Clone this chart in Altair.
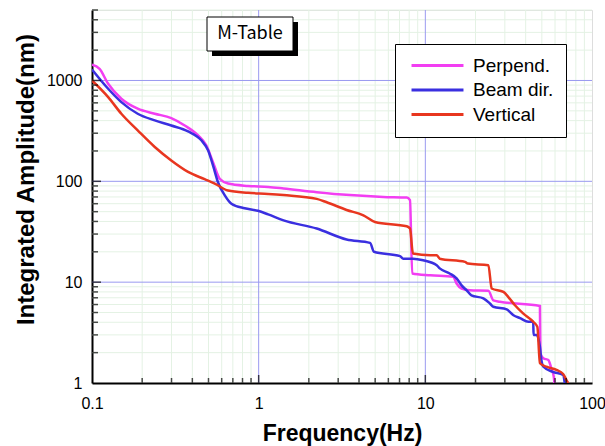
import altair as alt
import pandas as pd

# ---- data ----
perp_f = [0.1, 0.111, 0.125, 0.15, 0.188, 0.238, 0.299, 0.36, 0.433, 0.485, 0.532, 0.584, 0.655, 0.863, 1.14,
          1.41, 2.23, 3.53, 5.59, 7.73, 8.09, 8.34, 10.7, 14.7, 15.4, 16.5, 18.5, 23.9, 25.6, 28.0, 48.7,
          49.0, 51.1, 54.7, 57.0, 59.0, 59.5]
perp_a = [1430, 1306, 927, 659, 525, 468, 424, 358, 285, 227, 155, 106, 95, 90, 88,
          85, 78, 73, 70, 69, 65, 12.2, 11.7, 11.3, 9.7, 8.65, 8.3, 8.2, 6.6, 6.4, 5.8,
          1.97, 1.76, 1.69, 1.4, 1.15, 1.0]

beam_f = [0.1, 0.125, 0.15, 0.188, 0.238, 0.299, 0.377, 0.453, 0.497, 0.532, 0.57, 0.625, 0.686, 0.824, 0.99,
          1.14, 1.41, 2.23, 3.37, 4.66, 4.92, 7.05, 7.37, 8.43, 9.7, 11.7, 12.2, 14.0, 15.4, 16.5, 17.7,
          18.9, 22.3, 24.4, 25.6, 30.8, 33.8, 37.0, 41.5, 44.4, 44.6, 46.5, 48.7, 49.7, 51.1, 58.2, 67.1, 68.6]
beam_a = [1285, 828, 610, 468, 402, 358, 313, 255, 203, 144, 98, 73, 60, 54, 51,
          47, 41, 34, 26.5, 24.5, 20, 18.1, 17.1, 17.1, 16.5, 14.7, 13.7, 12.2, 10.9, 9.3, 8.3,
          7.4, 6.9, 6.15, 5.7, 5.37, 4.7, 4.4, 4.05, 4.05, 3.0, 3.0, 2.29, 1.69, 1.45, 1.29, 1.2, 1.0]

vert_f = [0.1, 0.125, 0.15, 0.188, 0.238, 0.299, 0.377, 0.474, 0.545, 0.655, 0.863, 1.14, 1.41, 2.23, 2.56,
          3.37, 4.25, 4.99, 7.73, 8.09, 8.43, 10.7, 11.7, 12.2, 17.3, 18.0, 23.9, 25.0, 29.4, 31.4, 34.5,
          38.6, 44.4, 47.0, 48.7, 53.3, 61.2, 67.1, 70.3, 72.0]
vert_a = [1000, 684, 468, 320, 219, 161, 124, 105, 95, 81, 77, 75, 73, 67, 62,
          52, 46, 39.5, 35.8, 34, 19.2, 18.5, 18.5, 17.1, 15.9, 15.3, 14.7, 8.65, 8.0, 7.15, 5.9,
          4.9, 4.05, 3.6, 1.57, 1.45, 1.35, 1.23, 1.07, 1.0]

series_names = ["Perpend.", "Beam dir.", "Vertical"]
series_colors = ["#f23ef2", "#3a2fe0", "#e8361f"]

x_major = [1, 10]
x_minor = [0.2, 0.3, 0.4, 0.5, 0.6, 0.7, 0.8, 0.9, 2, 3, 4, 5, 6, 7, 8, 9, 20, 30, 40, 50, 60, 70, 80, 90]
y_major = [10, 100, 1000]
y_minor = [2, 3, 4, 5, 6, 7, 8, 9, 20, 30, 40, 50, 60, 70, 80, 90,
           200, 300, 400, 500, 600, 700, 800, 900, 2000, 3000, 4000, 5000]
x_labels = [0.1, 1, 10, 100]
y_labels = [1, 10, 100, 1000]

rows = []
for name, fs, As in zip(series_names, [perp_f, beam_f, vert_f], [perp_a, beam_a, vert_a]):
    for i, (f, a) in enumerate(zip(fs, As)):
        rows.append({"series": name, "f": f, "A": a, "i": i})
df = pd.DataFrame(rows)

W, H = 500, 373
xscale = alt.Scale(type="log", domain=[0.1, 100])
yscale = alt.Scale(type="log", domain=[1, 5000])
FONT = "Liberation Sans"

xaxis = alt.Axis(values=x_labels, format="~g", grid=False, ticks=False, tickSize=0,
                 domainColor="black", domainWidth=2, labelFont=FONT, labelFontSize=16,
                 labelColor="black", labelPadding=12, labelFlush=False, labelOverlap=False,
                 title="Frequency(Hz)", titleFont=FONT, titleFontSize=23, titleFontWeight="bold",
                 titleColor="black", titleBaseline="alphabetic", titleY=57)
yaxis = alt.Axis(values=y_labels, format="~g", grid=False, ticks=False, tickSize=0,
                 domainColor="black", domainWidth=2, labelFont=FONT, labelFontSize=16,
                 labelColor="black", labelPadding=10, labelFlush=False, labelOverlap=False,
                 title="Integrated Amplitude(nm)", titleFont=FONT, titleFontSize=24,
                 titleFontWeight="bold", titleColor="black", titleBaseline="alphabetic",
                 titleX=-59, titleY=169, titleAngle=270)

xminor_df = pd.DataFrame({"v": x_minor})
yminor_df = pd.DataFrame({"v": y_minor})
xmajor_df = pd.DataFrame({"v": x_major})
ymajor_df = pd.DataFrame({"v": y_major})

grid_minor_x = alt.Chart(xminor_df).mark_rule(color="#e4f2e4", strokeWidth=1).encode(
    x=alt.X("v:Q", scale=xscale, axis=xaxis))
grid_minor_y = alt.Chart(yminor_df).mark_rule(color="#e4f2e4", strokeWidth=1).encode(
    y=alt.Y("v:Q", scale=yscale, axis=yaxis))
grid_major_x = alt.Chart(xmajor_df).mark_rule(color="#9a9af0", strokeWidth=1).encode(
    x=alt.X("v:Q", scale=xscale, axis=xaxis))
grid_major_y = alt.Chart(ymajor_df).mark_rule(color="#9a9af0", strokeWidth=1).encode(
    y=alt.Y("v:Q", scale=yscale, axis=yaxis))

# inward ticks
tick_x_minor = alt.Chart(xminor_df).mark_tick(orient="vertical", size=5, thickness=1.5,
                                              yOffset=-2.5, color="black").encode(
    x=alt.X("v:Q", scale=xscale, axis=xaxis), y=alt.datum(1, scale=yscale, axis=yaxis))
tick_x_major = alt.Chart(xmajor_df).mark_tick(orient="vertical", size=8, thickness=1.5,
                                              yOffset=-4, color="black").encode(
    x=alt.X("v:Q", scale=xscale, axis=xaxis), y=alt.datum(1, scale=yscale, axis=yaxis))
tick_y_minor = alt.Chart(yminor_df).mark_tick(orient="horizontal", size=6, thickness=1.5,
                                              xOffset=3, color="black").encode(
    y=alt.Y("v:Q", scale=yscale, axis=yaxis), x=alt.datum(0.1, scale=xscale, axis=xaxis))
tick_y_major = alt.Chart(ymajor_df).mark_tick(orient="horizontal", size=9, thickness=1.5,
                                              xOffset=4.5, color="black").encode(
    y=alt.Y("v:Q", scale=yscale, axis=yaxis), x=alt.datum(0.1, scale=xscale, axis=xaxis))

lines = alt.Chart(df).mark_line(strokeWidth=2.5, clip=True, interpolate="monotone").encode(
    x=alt.X("f:Q", scale=xscale, axis=xaxis),
    y=alt.Y("A:Q", scale=yscale, axis=yaxis),
    color=alt.Color("series:N",
                    scale=alt.Scale(domain=series_names, range=series_colors),
                    legend=alt.Legend(orient="none", legendX=303, legendY=34, title=None,
                                      symbolType="M-5,0H5", symbolSize=108, symbolStrokeWidth=3,
                                      symbolOffset=21, labelOffset=26, labelFont=FONT,
                                      labelFontSize=19, labelColor="black", padding=12,
                                      rowPadding=4.5, strokeColor="black", fillColor="white",
                                      cornerRadius=0)),
    order="i:Q",
)

# "M-Table" label box
one = alt.Data(values=[{"t": "M-Table"}])
shadow = alt.Chart(one).mark_rect(color="black").encode(
    x=alt.value(120), x2=alt.value(206), y=alt.value(12), y2=alt.value(46))
box = alt.Chart(one).mark_rect(fill="white", stroke="black", strokeWidth=1).encode(
    x=alt.value(115), x2=alt.value(201), y=alt.value(7), y2=alt.value(41))
label = alt.Chart(one).mark_text(font="Noto Sans CJK JP", fontSize=18, color="black",
                                 align="center", baseline="middle").encode(
    x=alt.value(158), y=alt.value(24), text="t:N")

chart = alt.layer(
    grid_minor_x, grid_minor_y, grid_major_x, grid_major_y,
    lines,
    tick_x_minor, tick_x_major, tick_y_minor, tick_y_major,
    shadow, box, label,
).properties(
    width=W, height=H,
    autosize=alt.AutoSizeParams(type="none"),
    padding={"left": 92, "top": 10, "right": 13, "bottom": 63},
).configure_view(strokeWidth=0).configure(background="white")

chart.save("out.html", embed_options={"renderer": "svg", "actions": False})
